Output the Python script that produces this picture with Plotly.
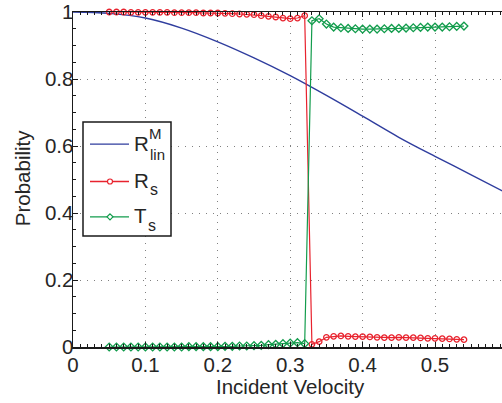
import plotly.graph_objects as go

# ---- data ----
v_lin = [0.00, 0.05, 0.10, 0.15, 0.20, 0.25, 0.30, 0.35, 0.40, 0.45, 0.50, 0.55, 0.60]
R_lin = [1.000, 0.996, 0.982, 0.952, 0.911, 0.863, 0.810, 0.751, 0.689, 0.626, 0.569, 0.514, 0.458]

v_s = [0.05, 0.06, 0.07, 0.08, 0.09, 0.10, 0.11, 0.12, 0.13, 0.14,
       0.15, 0.16, 0.17, 0.18, 0.19, 0.20, 0.21, 0.22, 0.23, 0.24,
       0.25, 0.26, 0.27, 0.28, 0.29, 0.30, 0.31, 0.32, 0.33, 0.34,
       0.35, 0.36, 0.37, 0.38, 0.39, 0.40, 0.41, 0.42, 0.43, 0.44,
       0.45, 0.46, 0.47, 0.48, 0.49, 0.50, 0.51, 0.52, 0.53, 0.54]
R_s = [1.000, 1.000, 1.000, 0.999, 0.999, 0.999, 0.999, 0.999, 0.999, 0.998,
       0.998, 0.998, 0.998, 0.997, 0.997, 0.997, 0.996, 0.995, 0.994, 0.993,
       0.992, 0.989, 0.987, 0.985, 0.982, 0.980, 0.982, 0.989, 0.008, 0.016,
       0.029, 0.032, 0.033, 0.032, 0.031, 0.031, 0.030, 0.029, 0.028, 0.028,
       0.029, 0.028, 0.028, 0.027, 0.026, 0.026, 0.025, 0.024, 0.023, 0.022]
T_s = [0.000, 0.000, 0.000, 0.000, 0.000, 0.000, 0.000, 0.000, 0.000, 0.000,
       0.000, 0.001, 0.001, 0.001, 0.001, 0.001, 0.002, 0.002, 0.003, 0.003,
       0.004, 0.005, 0.007, 0.008, 0.010, 0.012, 0.013, 0.010, 0.974, 0.980,
       0.964, 0.955, 0.953, 0.951, 0.950, 0.949, 0.949, 0.949, 0.950, 0.951,
       0.951, 0.952, 0.953, 0.954, 0.955, 0.955, 0.955, 0.956, 0.957, 0.958]

x_ticks = [0, 0.1, 0.2, 0.3, 0.4, 0.5]
x_ticktext = ["0", "0.1", "0.2", "0.3", "0.4", "0.5"]
y_ticks = [0, 0.2, 0.4, 0.6, 0.8, 1.0]
y_ticktext = ["0", "0.2", "0.4", "0.6", "0.8", "1"]

BLUE = "#2f3d9e"
RED = "#e8232e"
GREEN = "#129c4c"
TXT = "#262626"
FONT = "Liberation Sans, Arial, Helvetica, sans-serif"

W, H = 502, 403
ML, MR, MT, MB = 73, 0, 9, 56
PW, PH = W - ML - MR, H - MT - MB

def px(xp):
    return (xp - ML) / PW

def py(yp):
    return (H - MB - yp) / PH

fig = go.Figure()
fig.add_trace(go.Scatter(x=v_lin, y=R_lin, mode="lines", line=dict(color=BLUE, width=1.4, shape="spline"),
                         showlegend=False))
fig.add_trace(go.Scatter(x=v_s, y=R_s, mode="lines+markers", line=dict(color=RED, width=1.2),
                         marker=dict(symbol="circle-open", size=5.5, color=RED, line=dict(width=1.3)),
                         cliponaxis=False, showlegend=False))
fig.add_trace(go.Scatter(x=v_s, y=T_s, mode="lines+markers", line=dict(color=GREEN, width=1.2),
                         marker=dict(symbol="diamond-open", size=6, color=GREEN, line=dict(width=1.3)),
                         cliponaxis=False, showlegend=False))

axis_common = dict(
    showline=True, linecolor="#1a1a1a", linewidth=1.5,
    ticks="inside", ticklen=5, tickcolor="#1a1a1a", tickwidth=1,
    showgrid=True, gridcolor="#808080", gridwidth=1, griddash="1px,6px",
    zeroline=False, ticklabeloverflow="allow",
    tickfont=dict(family=FONT, size=20.5, color=TXT),
)
fig.update_xaxes(range=[0, PW / 724.0], tickvals=x_ticks, ticktext=x_ticktext,
                 mirror="ticks", ticklabelstandoff=-1,
                 minor=dict(dtick=0.01, ticks="inside", ticklen=3, tickcolor="#1a1a1a", showgrid=False),
                 **axis_common)
fig.update_yaxes(range=[0, 1], tickvals=y_ticks, ticktext=y_ticktext,
                 mirror=False, ticklabelstandoff=-6,
                 minor=dict(dtick=0.05, ticks="inside", ticklen=3, tickcolor="#1a1a1a", showgrid=False),
                 **axis_common)

# axis titles
anns = [
    dict(text="Incident Velocity", x=px(290.8), y=py(386.5), xref="paper", yref="paper",
         showarrow=False, xanchor="center", yanchor="middle", font=dict(family=FONT, size=20.5, color=TXT)),
    dict(text="Probability", x=px(22), y=py(176.7), xref="paper", yref="paper", textangle=-90,
         showarrow=False, xanchor="center", yanchor="middle", font=dict(family=FONT, size=20.5, color=TXT)),
]

# legend (drawn)
shapes = [dict(type="rect", xref="paper", yref="paper", x0=px(83), x1=px(171), y0=py(235), y1=py(120),
               line=dict(color="#1a1a1a", width=1.5), fillcolor="white", layer="above")]
rows = [(142.3, BLUE, None), (180, RED, "circle"), (215.7, GREEN, "diamond")]
for yrow, col, sym in rows:
    shapes.append(dict(type="line", xref="paper", yref="paper", x0=px(90), x1=px(129), y0=py(yrow), y1=py(yrow),
                       line=dict(color=col, width=1.3), layer="above"))
    if sym == "circle":
        shapes.append(dict(type="circle", xref="paper", yref="paper", xsizemode="pixel", ysizemode="pixel",
                           xanchor=px(110), yanchor=py(yrow), x0=-2.5, x1=2.5, y0=-2.5, y1=2.5,
                           line=dict(color=col, width=1.2), fillcolor="white", layer="above"))
    elif sym == "diamond":
        shapes.append(dict(type="path", xref="paper", yref="paper", xsizemode="pixel", ysizemode="pixel",
                           xanchor=px(110), yanchor=py(yrow), path="M 0,3 L 3,0 L 0,-3 L -3,0 Z",
                           line=dict(color=col, width=1.2), fillcolor="white", layer="above"))

def leg_text(t, xl, yc, size):
    anns.append(dict(text=t, x=px(xl), y=py(yc), xref="paper", yref="paper", showarrow=False,
                     xanchor="left", yanchor="middle", font=dict(family=FONT, size=size, color=TXT),
                     borderpad=0, xshift=0))

leg_text("R", 133, 141.5, 20.5)
leg_text("M", 147.5, 132, 15)
leg_text("lin", 148.5, 153, 15)
leg_text("R", 133, 179, 20.5)
leg_text("s", 148.5, 188, 16)
leg_text("T", 133, 214, 20.5)
leg_text("s", 147, 224, 16)

fig.update_layout(
    width=W, height=H,
    margin=dict(l=ML, r=MR, t=MT, b=MB, pad=0),
    paper_bgcolor="white", plot_bgcolor="white",
    showlegend=False, hovermode=False,
    annotations=anns, shapes=shapes,
)

fig.write_html("out.html", config={"displayModeBar": False, "staticPlot": True},
               post_script="document.body.style.margin='0';document.body.style.padding='0';"
                           "document.documentElement.style.overflow='hidden';")
